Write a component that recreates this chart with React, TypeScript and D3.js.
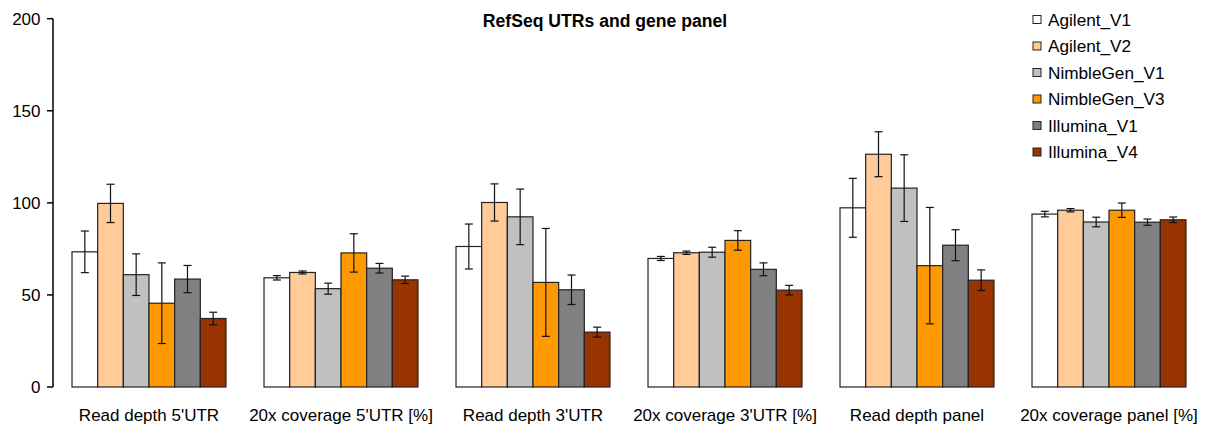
import React from "react";
import * as d3 from "d3";

// Categories along the x axis
const categories = [
  "Read depth 5'UTR",
  "20x coverage 5'UTR [%]",
  "Read depth 3'UTR",
  "20x coverage 3'UTR [%]",
  "Read depth panel",
  "20x coverage panel [%]",
];

// Enrichment kits (series)
const series = [
  "Agilent_V1",
  "Agilent_V2",
  "NimbleGen_V1",
  "NimbleGen_V3",
  "Illumina_V1",
  "Illumina_V4",
];

const colors = ["#FFFFFF", "#FFCC99", "#C0C0C0", "#FF9900", "#808080", "#993300"];

// Mean values per series, one entry per category
const agilentV1 = [73.4, 59.3, 76.3, 69.8, 97.3, 93.9];
const agilentV2 = [99.7, 62.2, 100.2, 72.9, 126.4, 96.0];
const nimbleGenV1 = [61.0, 53.4, 92.4, 73.2, 108.0, 89.6];
const nimbleGenV3 = [45.5, 72.8, 56.8, 79.6, 65.9, 96.0];
const illuminaV1 = [58.6, 64.5, 52.8, 63.9, 77.0, 89.5];
const illuminaV4 = [37.2, 58.2, 29.8, 52.6, 58.0, 90.8];

// Standard deviations per series, one entry per category
const agilentV1Err = [11.3, 1.2, 12.2, 1.1, 16.0, 1.5];
const agilentV2Err = [10.4, 0.8, 10.1, 0.9, 12.2, 0.9];
const nimbleGenV1Err = [11.3, 3.0, 15.1, 2.7, 18.1, 2.6];
const nimbleGenV3Err = [21.9, 10.4, 29.3, 5.3, 31.6, 3.9];
const illuminaV1Err = [7.4, 2.6, 8.0, 3.5, 8.4, 1.7];
const illuminaV4Err = [3.4, 2.0, 2.7, 2.6, 5.6, 1.5];

const yTicks = [0, 50, 100, 150, 200];

const values = [agilentV1, agilentV2, nimbleGenV1, nimbleGenV3, illuminaV1, illuminaV4];
const errors = [agilentV1Err, agilentV2Err, nimbleGenV1Err, nimbleGenV3Err, illuminaV1Err, illuminaV4Err];

const W = 1207;
const H = 428;
const FONT = "'Liberation Sans', Arial, sans-serif";

export default function App() {
  const left = 53;
  const right = 1205;
  const top = 18.7;
  const bottom = 387;

  const x0 = d3.scaleBand<string>().domain(categories).range([left, right]).paddingInner(0.198).paddingOuter(0.099);
  const x1 = d3.scaleBand<string>().domain(series).range([0, x0.bandwidth()]).padding(0);
  const y = d3.scaleLinear().domain([0, 200]).range([bottom, top]);

  const capHalf = 4;

  return (
    <svg width={W} height={H} style={{ position: "absolute", left: 0, top: 0, background: "#fff" }} fontFamily={FONT}>
      <rect x={0} y={0} width={W} height={H} fill="#fff" />

      {/* Title */}
      <text x={605} y={26.5} textAnchor="middle" fontSize={17.6} fontWeight="bold" fill="#000">
        RefSeq UTRs and gene panel
      </text>

      {/* Y axis */}
      <line x1={left} x2={left} y1={y(200)} y2={y(0)} stroke="#000" strokeWidth={1.5} />
      {yTicks.map((t) => (
        <g key={t}>
          <line x1={left - 6} x2={left} y1={y(t)} y2={y(t)} stroke="#000" strokeWidth={1.5} />
          <text x={40.5} y={y(t)} dy="0.35em" textAnchor="end" fontSize={17} fill="#000">
            {t}
          </text>
        </g>
      ))}

      {/* Bars with error bars */}
      {categories.map((cat, ci) => (
        <g key={cat} transform={`translate(${x0(cat)},0)`}>
          {series.map((s, si) => {
            const v = values[si][ci];
            const e = errors[si][ci];
            const bx = x1(s)!;
            const bw = x1.bandwidth();
            const cx = bx + bw / 2;
            return (
              <g key={s}>
                <rect
                  x={bx}
                  y={y(v)}
                  width={bw}
                  height={y(0) - y(v)}
                  fill={colors[si]}
                  stroke="#222"
                  strokeWidth={1.2}
                />
                <line x1={cx} x2={cx} y1={y(v + e)} y2={y(v - e)} stroke="#111" strokeWidth={1.2} />
                <line x1={cx - capHalf} x2={cx + capHalf} y1={y(v + e)} y2={y(v + e)} stroke="#111" strokeWidth={1.2} />
                <line x1={cx - capHalf} x2={cx + capHalf} y1={y(v - e)} y2={y(v - e)} stroke="#111" strokeWidth={1.2} />
              </g>
            );
          })}
          <text x={x0.bandwidth() / 2} y={421} textAnchor="middle" fontSize={17} fill="#000">
            {cat}
          </text>
        </g>
      ))}

      {/* Legend */}
      {series.map((s, si) => {
        const cy = 19.5 + si * 26.5;
        return (
          <g key={s}>
            <rect x={1033} y={cy - 4} width={8} height={8} fill={colors[si]} stroke="#222" strokeWidth={1} />
            <text x={1048} y={cy} dy="0.35em" fontSize={17.2} fill="#000">
              {s}
            </text>
          </g>
        );
      })}
    </svg>
  );
}
